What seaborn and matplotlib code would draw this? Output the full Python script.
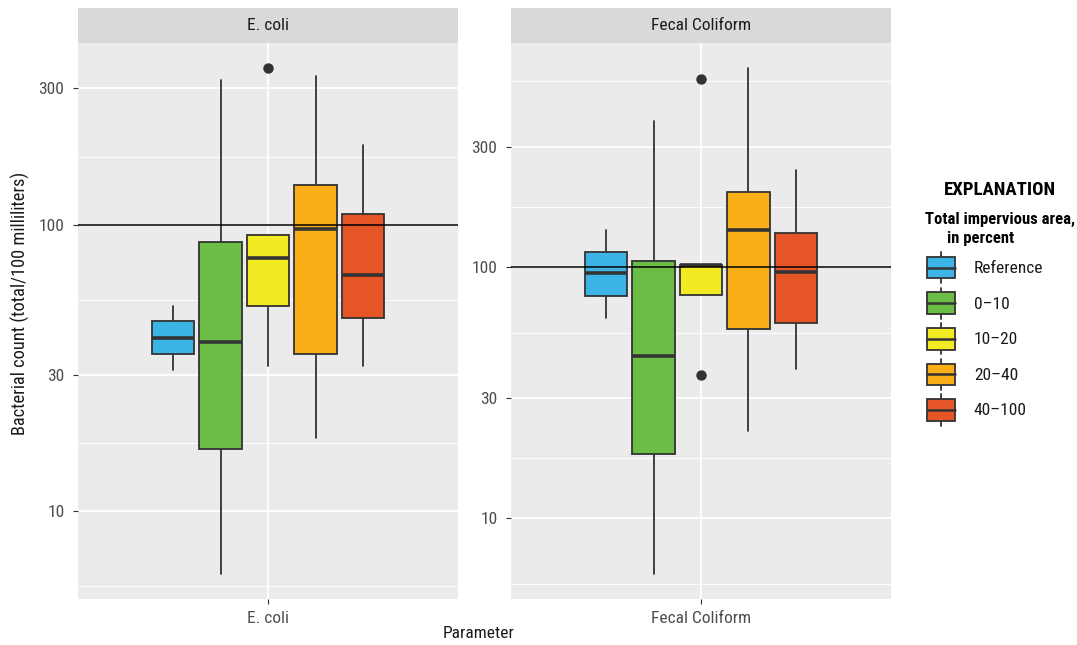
import numpy as np
import matplotlib
matplotlib.use("Agg")
import matplotlib.pyplot as plt
import matplotlib.font_manager as fm
from matplotlib.ticker import FixedLocator, FuncFormatter, NullFormatter
from matplotlib.legend_handler import HandlerBase
from matplotlib.patches import Rectangle, Patch
from matplotlib.lines import Line2D
import seaborn as sns

# ---- data -------------------------------------------------------------
parameters = ["E. coli", "Fecal Coliform"]
groups = ["Reference", "0\u201310", "10\u201320", "20\u201340", "40\u2013100"]
group_colors = ["#3DB4E6", "#6CBD45", "#F2EA22", "#FAAE18", "#E65526"]

# box statistics (colonies per 100 mL), one entry per impervious-area group
ecoli_whislo = [31.3, 6.06, 32.3, 18.1, 32.3]
ecoli_q1 = [35.4, 16.5, 52.2, 35.4, 47.2]
ecoli_med = [40.4, 39.1, 76.9, 96.7, 67.2]
ecoli_q3 = [46.1, 87.0, 92.0, 138.0, 109.4]
ecoli_whishi = [52.2, 321.5, 92.0, 332.4, 191.0]
ecoli_fliers = [[], [], [352.8], [], []]

fecal_whislo = [62.6, 6.03, 77.4, 22.2, 39.2]
fecal_q1 = [76.5, 18.1, 77.4, 56.6, 59.8]
fecal_med = [94.1, 44.1, 101.5, 140.0, 95.2]
fecal_q3 = [115.0, 105.0, 101.5, 198.0, 135.8]
fecal_whishi = [139.9, 380.4, 101.5, 615.0, 241.9]
fecal_fliers = [[], [], [555.0, 37.1], [], []]

standard = 100  # reference criterion line
major_breaks = [3, 10, 30, 100, 300, 1000]

# ---- style ------------------------------------------------------------
sns.set_theme(style="darkgrid")
palette = sns.color_palette(group_colors)

names = {f.name for f in fm.fontManager.ttflist}
family, stretch = None, "normal"
for cand in ["Liberation Sans Narrow", "Roboto Condensed", "Noto Sans Condensed",
             "Open Sans Condensed", "Noto Sans SemiCondensed"]:
    if cand in names:
        family = cand
        break
if family is None:
    if any(f.name == "DejaVu Sans" and f.stretch == "condensed" for f in fm.fontManager.ttflist):
        family, stretch = "DejaVu Sans", "condensed"
    else:
        family = "Liberation Sans"
plt.rcParams["font.family"] = [family, "DejaVu Sans"]
plt.rcParams["font.stretch"] = stretch

W, H = 1077, 645
fig = plt.figure(figsize=(W / 100, H / 100), dpi=100)
fig.patch.set_facecolor("white")

dark = "#333333"
panel_left = [78, 511]
panel_w = 380
panel_top, panel_bot = 43, 599
strip_top = 8
edge_lw = 1.3


def box_stats(whislo, q1, med, q3, whishi, fliers):
    return [dict(whislo=a, q1=b, med=c, q3=d, whishi=e, fliers=np.array(f))
            for a, b, c, d, e, f in zip(whislo, q1, med, q3, whishi, fliers)]


panel_stats = [
    box_stats(ecoli_whislo, ecoli_q1, ecoli_med, ecoli_q3, ecoli_whishi, ecoli_fliers),
    box_stats(fecal_whislo, fecal_q1, fecal_med, fecal_q3, fecal_whishi, fecal_fliers),
]

positions = 1 + (np.arange(len(groups)) - 2) * 0.15

for k, (param, stats) in enumerate(zip(parameters, panel_stats)):
    x0 = panel_left[k]
    ax = fig.add_axes([x0 / W, 1 - panel_bot / H, panel_w / W, (panel_bot - panel_top) / H])
    ax.set_facecolor("#EBEBEB")
    for s in ax.spines.values():
        s.set_visible(False)

    bp = ax.bxp(stats, positions=positions, widths=0.135, patch_artist=True,
                showcaps=False, showfliers=True, manage_ticks=False,
                boxprops=dict(edgecolor=dark, linewidth=edge_lw),
                whiskerprops=dict(color=dark, linewidth=edge_lw),
                medianprops=dict(color=dark, linewidth=2.6, solid_capstyle="butt"),
                flierprops=dict(marker="o", markerfacecolor=dark,
                                markeredgecolor=dark, markersize=6.5))
    for patch, col in zip(bp["boxes"], palette):
        patch.set_facecolor(col)
        patch.set_zorder(3)
    for line in bp["medians"]:
        line.set_zorder(4)
    for line in bp["whiskers"]:
        line.set_zorder(2.5)

    ax.axhline(standard, color="black", lw=1.1, zorder=5)

    # log scale with 5% padding of the data range, as in ggplot
    vals = []
    for s in stats:
        vals += [s["whislo"], s["whishi"]] + list(s["fliers"])
    lo, hi = np.log10(min(vals)), np.log10(max(vals))
    pad = 0.05 * (hi - lo)
    ax.set_yscale("log")
    ax.set_ylim(10 ** (lo - pad), 10 ** (hi + pad))
    ax.set_xlim(0.4, 1.6)

    ax.yaxis.set_major_locator(FixedLocator(major_breaks))
    ax.yaxis.set_major_formatter(FuncFormatter(lambda v, _: f"{v:g}"))
    minors = [np.sqrt(a * b) for a, b in zip(major_breaks[:-1], major_breaks[1:])]
    ax.yaxis.set_minor_locator(FixedLocator(minors))
    ax.yaxis.set_minor_formatter(NullFormatter())
    ax.set_xticks([1])
    ax.set_xticklabels([param])

    ax.grid(which="major", color="white", lw=1.3)
    ax.grid(which="minor", axis="y", color="white", lw=0.65)
    ax.set_axisbelow(True)
    ax.tick_params(which="minor", length=0)
    ax.tick_params(axis="y", which="major", length=3.8, width=0.8, color=dark,
                   labelcolor="#4D4D4D", labelsize=12.5, pad=6.0, left=True)
    ax.tick_params(axis="x", which="major", length=3.8, width=0.8, color=dark,
                   labelcolor="#4D4D4D", labelsize=12.5, pad=4.5, bottom=True)

    # facet strip
    sax = fig.add_axes([x0 / W, 1 - panel_top / H, panel_w / W, (panel_top - strip_top) / H])
    sax.set_facecolor("#D9D9D9")
    sax.set_xticks([])
    sax.set_yticks([])
    sax.grid(False)
    for s in sax.spines.values():
        s.set_visible(False)
    sax.text(0.5, 0.5, param, ha="center", va="center", fontsize=12.5,
             color="#1A1A1A", transform=sax.transAxes)

# axis titles
fig.text(20 / W, 1 - 303 / H, "Bacterial count (total/100 milliliters)", rotation=90,
         ha="center", va="center", fontsize=13.2, color="#1A1A1A")
fig.text(479 / W, 1 - 634 / H, "Parameter", ha="center", va="center",
         fontsize=12.5, color="#1A1A1A")


# ---- legend -------------------------------------------------------------
class BoxKey(HandlerBase):
    def create_artists(self, legend, orig_handle, xdescent, ydescent,
                       width, height, fontsize, trans):
        x0, y0 = -xdescent, -ydescent
        cx = x0 + width / 2
        bh = height * 0.70
        by = y0 + (height - bh) / 2
        face = orig_handle.get_facecolor()
        w1 = Line2D([cx, cx], [y0, by], color=dark, lw=edge_lw, transform=trans)
        w2 = Line2D([cx, cx], [by + bh, y0 + height], color=dark, lw=edge_lw, transform=trans)
        rect = Rectangle((x0, by), width, bh, facecolor=face, edgecolor=dark,
                         lw=edge_lw, transform=trans)
        med = Line2D([x0, x0 + width], [y0 + height / 2] * 2, color=dark, lw=1.8,
                     transform=trans)
        return [w1, w2, rect, med]


handles = [Patch(facecolor=c) for c in palette]
fig.legend(handles, groups, handler_map={Patch: BoxKey()}, loc="upper left",
           bbox_to_anchor=(927 / W, 1 - 252 / H), frameon=False, borderpad=0,
           borderaxespad=0, fontsize=12.5, handlelength=1.62, handleheight=2.38,
           labelspacing=0.26, handletextpad=1.08, labelcolor="#1A1A1A")

fig.text(1000 / W, 1 - 190 / H, "EXPLANATION", ha="center", va="center",
         fontsize=13.5, fontweight="bold", color="black")
fig.text(925 / W, 1 - 219 / H, "Total impervious area,", ha="left", va="center",
         fontsize=12, fontweight="bold", color="black")
fig.text(947 / W, 1 - 239 / H, "in percent", ha="left", va="center",
         fontsize=12, fontweight="bold", color="black")

fig.savefig("out.png", dpi=100, facecolor="white")
